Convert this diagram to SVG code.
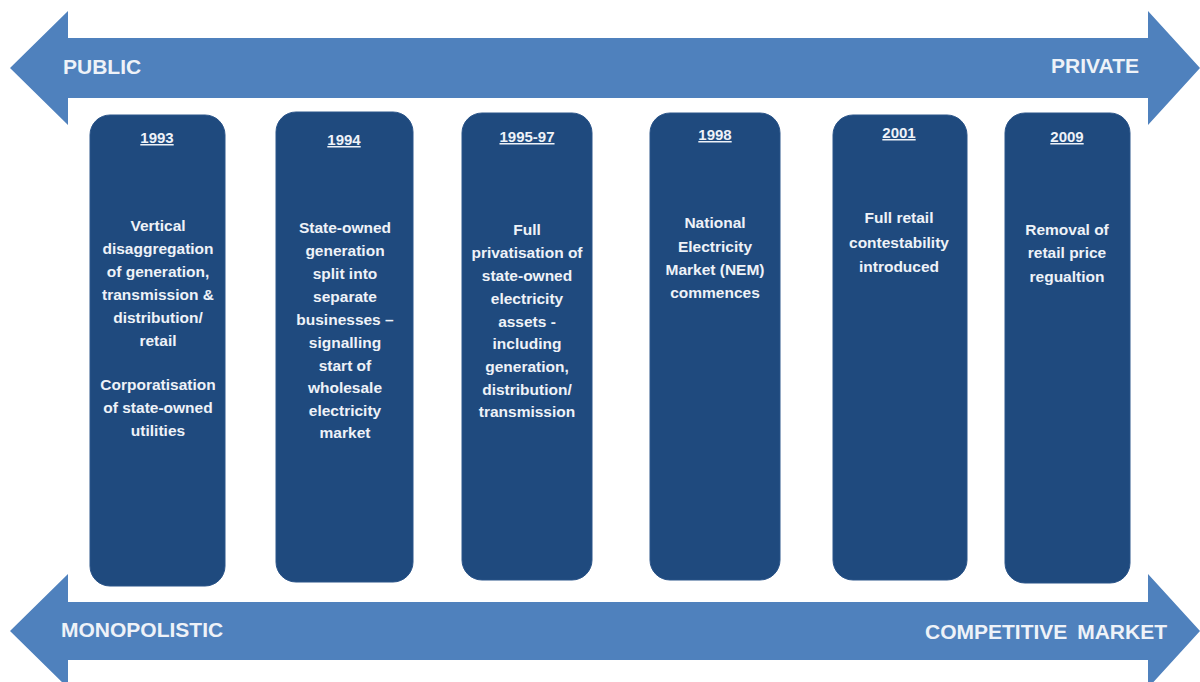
<svg xmlns="http://www.w3.org/2000/svg" width="1200" height="682" viewBox="0 0 1200 682">
<style>
.arrow{fill:#4f81bd}
.box{fill:#1f4a7e;stroke:#2a5489;stroke-width:1}
.lbl{font-family:"Liberation Sans",Arial,sans-serif;font-weight:bold;font-size:21px;fill:#eef2f8}
.yr{font-family:"Liberation Sans",Arial,sans-serif;font-weight:bold;font-size:15px;fill:#eef2f8;text-anchor:middle;text-decoration:underline}
.t{font-family:"Liberation Sans",Arial,sans-serif;font-weight:bold;font-size:15.5px;fill:#eef2f8;text-anchor:middle}
</style>
<rect width="1200" height="682" fill="#ffffff"/>
<g id="connectors">
<polygon class="arrow" points="10,68 68,11 68,38 1148,38 1148,11 1200,68 1148,125 1148,98 68,98 68,125"/>
<polygon class="arrow" points="10,631 68,574 68,602 1148,602 1148,574 1200,631 1148,688 1148,660 68,660 68,688"/>
</g>
<g id="labels">
<text class="lbl" x="63" y="74">PUBLIC</text>
<text class="lbl" x="1139" y="73" text-anchor="end">PRIVATE</text>
<text class="lbl" x="61" y="637" font-size="21.5px">MONOPOLISTIC</text>
<text class="lbl" x="1167" y="639" text-anchor="end" word-spacing="4">COMPETITIVE MARKET</text>
</g>
<g id="box1993">
<rect class="box" x="90" y="115" width="135" height="471" rx="20"/>
<text class="yr" x="157" y="143">1993</text>
<text class="t" x="158"><tspan x="158" y="231">Vertical</tspan><tspan x="158" y="254">disaggregation</tspan><tspan x="158" y="277">of generation,</tspan><tspan x="158" y="300">transmission &amp;</tspan><tspan x="158" y="323">distribution/</tspan><tspan x="158" y="346">retail</tspan><tspan x="158" y="390">Corporatisation</tspan><tspan x="158" y="413">of state-owned</tspan><tspan x="158" y="436">utilities</tspan></text>
</g>
<g id="box1994">
<rect class="box" x="276" y="112" width="137" height="470" rx="20"/>
<text class="yr" x="344" y="145">1994</text>
<text class="t"><tspan x="345" y="233">State-owned</tspan><tspan x="345" y="256">generation</tspan><tspan x="345" y="279">split into</tspan><tspan x="345" y="302">separate</tspan><tspan x="345" y="325">businesses –</tspan><tspan x="345" y="348">signalling</tspan><tspan x="345" y="371">start of</tspan><tspan x="345" y="393">wholesale</tspan><tspan x="345" y="416">electricity</tspan><tspan x="345" y="438">market</tspan></text>
</g>
<g id="box1995">
<rect class="box" x="462" y="113" width="130" height="467" rx="20"/>
<text class="yr" x="527" y="142">1995-97</text>
<text class="t"><tspan x="527" y="235">Full</tspan><tspan x="527" y="258">privatisation of</tspan><tspan x="527" y="281">state-owned</tspan><tspan x="527" y="304">electricity</tspan><tspan x="527" y="327">assets -</tspan><tspan x="527" y="349">including</tspan><tspan x="527" y="372">generation,</tspan><tspan x="527" y="395">distribution/</tspan><tspan x="527" y="417">transmission</tspan></text>
</g>
<g id="box1998">
<rect class="box" x="650" y="113" width="130" height="467" rx="20"/>
<text class="yr" x="715" y="140">1998</text>
<text class="t"><tspan x="715" y="228">National</tspan><tspan x="715" y="252">Electricity</tspan><tspan x="715" y="275">Market (NEM)</tspan><tspan x="715" y="298">commences</tspan></text>
</g>
<g id="box2001">
<rect class="box" x="833" y="115" width="134" height="465" rx="20"/>
<text class="yr" x="899" y="138">2001</text>
<text class="t"><tspan x="899" y="223">Full retail</tspan><tspan x="899" y="248">contestability</tspan><tspan x="899" y="272">introduced</tspan></text>
</g>
<g id="box2009">
<rect class="box" x="1005" y="113" width="125" height="470" rx="20"/>
<text class="yr" x="1067" y="142">2009</text>
<text class="t"><tspan x="1067" y="235">Removal of</tspan><tspan x="1067" y="258">retail price</tspan><tspan x="1067" y="282">regualtion</tspan></text>
</g>
</svg>
